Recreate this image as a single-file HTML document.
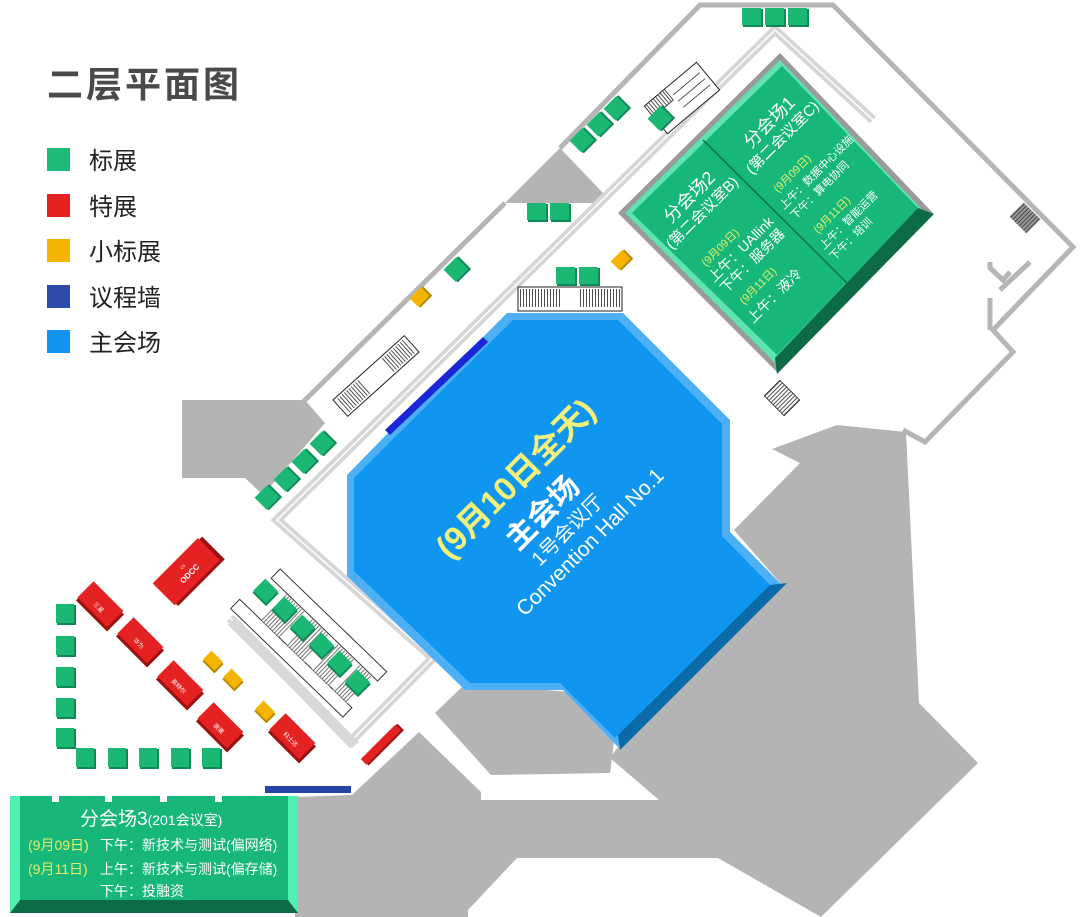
<!DOCTYPE html>
<html><head><meta charset="utf-8"><style>
html,body{margin:0;padding:0;background:#fff;}
svg{display:block;font-family:"Liberation Sans","Noto Sans CJK SC",sans-serif;}
</style></head><body>
<svg width="1080" height="917" viewBox="0 0 1080 917" xmlns="http://www.w3.org/2000/svg">
<defs>
<pattern id="hatch" width="3" height="10" patternUnits="userSpaceOnUse"><rect width="3" height="10" fill="#fff"/><line x1="1.5" y1="0" x2="1.5" y2="10" stroke="#222" stroke-width="0.8"/></pattern>
<pattern id="hatchd" width="3" height="10" patternUnits="userSpaceOnUse"><rect width="3" height="10" fill="#999"/><line x1="1.5" y1="0" x2="1.5" y2="10" stroke="#333" stroke-width="0.8"/></pattern>
</defs>

<g fill="#b4b4b4">
<polygon points="182,400 305,400 325,423 263,495 245,478 182,478"/>
<polygon points="560,148 603,193 593,203 505,203"/>
<polygon points="772,449 837,425 906,432 919,703 978,763 821,917 718,858 517,858 468,910 468,917 295,917 295,797 352,795 419,732 481,792 481,800 659,800 610,758 618,747 782,585 734,530 800,463"/>
<polygon points="435,713 466,683 569,692 615,733 610,773 491,775"/>
</g>

<g fill="none" stroke="#b5b5b5" stroke-width="5">
<polyline points="560,148 700,5 833,5 1073,247 993,330 1013,352 925,442 903,430"/>
<polyline points="505,203 303,402"/>
<polyline points="990,262 990,268 1003,280 1010,272"/>
<polyline points="990,298 990,330"/>
<polyline points="1000,290 1030,262"/>
</g>

<g fill="none">
<polyline points="873,120 775,30 277,520 433,658 350,742 230,618" stroke="#d6d6d6" stroke-width="9"/>
<polyline points="873,120 775,30 277,520 433,658 350,742 230,618" stroke="#fff" stroke-width="1.5"/>
</g>

<polygon points="507,313 623,313 730,420 730,532 782,585 618,747 563,690 465,690 347,576 347,475 388,433" fill="#4db0f7"/>
<polygon points="513,320 618,320 722,424 722,536 770,585 615,738 560,683 470,683 354,571 354,478 392,440" fill="#1096f0"/>
<polygon points="787,583 620,750 618,735 770,585" fill="#0a6aa9"/>
<polygon points="385,430 483,337 488,342 390,435" fill="#1a26d8"/>

<g transform="translate(515,478) rotate(-45)" text-anchor="middle">
<text x="0" y="12" font-size="33" font-weight="bold" fill="#f2f07a">(9月10日全天)</text>
</g>
<g transform="translate(542,512) rotate(-45)" text-anchor="middle">
<text x="0" y="11" font-size="30" font-weight="bold" fill="#fff">主会场</text>
</g>
<g transform="translate(567,530) rotate(-45)" text-anchor="middle">
<text x="0" y="7" font-size="20" fill="#fff">1号会议厅</text>
</g>
<g transform="translate(590,542) rotate(-45)" text-anchor="middle">
<text x="0" y="7" font-size="21" fill="#fff">Convention Hall No.1</text>
</g>

<polygon points="780,53 933,213 777,372 618,213" fill="#9a9a9a"/>
<polygon points="780,60 925,213 777,365 625,213" fill="#5fe3b0"/>
<polygon points="782,66 918,208 777,355 632,213" fill="#16b779"/>
<polygon points="934,214 777,374 775,358 918,208" fill="#0c6b46"/>
<line x1="703" y1="140" x2="849" y2="285" stroke="#0f6f48" stroke-width="1.5"/>
<g fill="#fff">
<text font-size="18" transform="translate(671,224) rotate(-45)">分会场2</text>
<text font-size="15" transform="translate(672,250) rotate(-45)">(第二会议室B)</text>
<text font-size="11" fill="#e6ef6a" transform="translate(706,267) rotate(-45)">(9月09日)</text>
<text font-size="14" transform="translate(714,283) rotate(-45)">上午：UAllink</text>
<text font-size="14" transform="translate(726,294) rotate(-45)">下午：服务器</text>
<text font-size="11" fill="#e6ef6a" transform="translate(744,305) rotate(-45)">(9月11日)</text>
<text font-size="14" transform="translate(753,324) rotate(-45)">上午：液冷</text>
<text font-size="18" transform="translate(751,149) rotate(-45)">分会场1</text>
<text font-size="15" transform="translate(752,175) rotate(-45)">(第二会议室C)</text>
<text font-size="11" fill="#e6ef6a" transform="translate(778,193) rotate(-45)">(9月09日)</text>
<text font-size="11" transform="translate(784,210) rotate(-45)">上午：数据中心设施</text>
<text font-size="11" transform="translate(795,220) rotate(-45)">下午：算电协同</text>
<text font-size="11" fill="#e6ef6a" transform="translate(818,234) rotate(-45)">(9月11日)</text>
<text font-size="11" transform="translate(824,250) rotate(-45)">上午：智能运营</text>
<text font-size="11" transform="translate(834,261) rotate(-45)">下午：培训</text>
</g>

<g transform="translate(682,98) rotate(-40)">
<rect x="-34" y="-18" width="68" height="36" fill="#fff" stroke="#222" stroke-width="1"/>
<rect x="-34" y="-18" width="26" height="14" fill="url(#hatch)" stroke="#222" stroke-width="0.8"/>
<line x1="-5" y1="-8" x2="30" y2="-8" stroke="#333" stroke-width="0.8"/><line x1="-5" y1="0" x2="30" y2="0" stroke="#333" stroke-width="0.8"/><line x1="-5" y1="8" x2="30" y2="8" stroke="#333" stroke-width="0.8"/>
</g>
<g transform="translate(376,376) rotate(-42)">
<rect x="-48" y="-11" width="96" height="22" fill="#fff" stroke="#222" stroke-width="1"/>
<rect x="-46" y="-9" width="32" height="18" fill="url(#hatch)"/>
<rect x="14" y="-9" width="32" height="18" fill="url(#hatch)"/>
</g>
<g>
<rect x="518" y="287" width="104" height="24" fill="#fff" stroke="#222" stroke-width="1"/>
<rect x="520" y="289" width="40" height="18" fill="url(#hatch)"/>
<rect x="580" y="289" width="40" height="18" fill="url(#hatch)"/>
</g>
<g transform="translate(782,398) rotate(45)">
<rect x="-14" y="-11" width="28" height="22" fill="url(#hatch)" stroke="#222" stroke-width="0.8"/>
</g>
<g transform="translate(1025,218) rotate(45)">
<rect x="-12" y="-10" width="24" height="20" fill="url(#hatchd)"/>
</g>
<polygon points="228,625 352,748 359,742 236,617" fill="#d8d8d8"/>
<g transform="translate(300,652) rotate(44)">
<rect x="-72" y="-46" width="148" height="13" fill="#fff" stroke="#333" stroke-width="1"/>
<rect x="-80" y="4" width="156" height="13" fill="#fff" stroke="#333" stroke-width="1"/>
<rect x="-50" y="-32" width="25" height="36" fill="url(#hatch)" opacity="0.8"/>
<rect x="-15" y="-32" width="25" height="36" fill="url(#hatch)" opacity="0.8"/>
<rect x="20" y="-32" width="25" height="36" fill="url(#hatch)" opacity="0.8"/>
<rect x="50" y="-32" width="20" height="36" fill="url(#hatch)" opacity="0.8"/>
</g>

<g>
<g><rect x="743" y="9" width="20" height="18" fill="#0f8a55"/><rect x="742" y="8" width="19" height="17" fill="#1bb874"/></g>
<g><rect x="766" y="9" width="20" height="18" fill="#0f8a55"/><rect x="765" y="8" width="19" height="17" fill="#1bb874"/></g>
<g><rect x="789" y="9" width="20" height="18" fill="#0f8a55"/><rect x="788" y="8" width="19" height="17" fill="#1bb874"/></g>
<g><rect x="528" y="204" width="20" height="18" fill="#0f8a55"/><rect x="527" y="203" width="19" height="17" fill="#1bb874"/></g>
<g><rect x="551" y="204" width="20" height="18" fill="#0f8a55"/><rect x="550" y="203" width="19" height="17" fill="#1bb874"/></g>
<g><rect x="557" y="268" width="20" height="18" fill="#0f8a55"/><rect x="556" y="267" width="19" height="17" fill="#1bb874"/></g>
<g><rect x="580" y="268" width="20" height="18" fill="#0f8a55"/><rect x="579" y="267" width="19" height="17" fill="#1bb874"/></g>
<g><rect x="57" y="605" width="19" height="20" fill="#0f8a55"/><rect x="56" y="604" width="18" height="19" fill="#1bb874"/></g>
<g><rect x="57" y="637" width="19" height="20" fill="#0f8a55"/><rect x="56" y="636" width="18" height="19" fill="#1bb874"/></g>
<g><rect x="57" y="668" width="19" height="20" fill="#0f8a55"/><rect x="56" y="667" width="18" height="19" fill="#1bb874"/></g>
<g><rect x="57" y="699" width="19" height="20" fill="#0f8a55"/><rect x="56" y="698" width="18" height="19" fill="#1bb874"/></g>
<g><rect x="57" y="729" width="19" height="20" fill="#0f8a55"/><rect x="56" y="728" width="18" height="19" fill="#1bb874"/></g>
<g><rect x="77" y="749" width="19" height="20" fill="#0f8a55"/><rect x="76" y="748" width="18" height="19" fill="#1bb874"/></g>
<g><rect x="109" y="749" width="19" height="20" fill="#0f8a55"/><rect x="108" y="748" width="18" height="19" fill="#1bb874"/></g>
<g><rect x="140" y="749" width="19" height="20" fill="#0f8a55"/><rect x="139" y="748" width="18" height="19" fill="#1bb874"/></g>
<g><rect x="172" y="749" width="19" height="20" fill="#0f8a55"/><rect x="171" y="748" width="18" height="19" fill="#1bb874"/></g>
<g><rect x="203" y="749" width="19" height="20" fill="#0f8a55"/><rect x="202" y="748" width="18" height="19" fill="#1bb874"/></g>
</g>
<g>
<g transform="translate(583,140) rotate(-45)"><rect x="-9" y="-8" width="19" height="18" fill="#0f8a55"/><rect x="-10" y="-9" width="18" height="17" fill="#1bb874"/></g>
<g transform="translate(600,124) rotate(-45)"><rect x="-9" y="-8" width="19" height="18" fill="#0f8a55"/><rect x="-10" y="-9" width="18" height="17" fill="#1bb874"/></g>
<g transform="translate(617,108) rotate(-45)"><rect x="-9" y="-8" width="19" height="18" fill="#0f8a55"/><rect x="-10" y="-9" width="18" height="17" fill="#1bb874"/></g>
<g transform="translate(661,118) rotate(-45)"><rect x="-9" y="-8" width="19" height="18" fill="#0f8a55"/><rect x="-10" y="-9" width="18" height="17" fill="#1bb874"/></g>
<g transform="translate(457,269) rotate(-45)"><rect x="-9" y="-8" width="19" height="18" fill="#0f8a55"/><rect x="-10" y="-9" width="18" height="17" fill="#1bb874"/></g>
<g transform="translate(268,497) rotate(-45)"><rect x="-9" y="-8" width="19" height="18" fill="#0f8a55"/><rect x="-10" y="-9" width="18" height="17" fill="#1bb874"/></g>
<g transform="translate(287,479) rotate(-45)"><rect x="-9" y="-8" width="19" height="18" fill="#0f8a55"/><rect x="-10" y="-9" width="18" height="17" fill="#1bb874"/></g>
<g transform="translate(305,461) rotate(-45)"><rect x="-9" y="-8" width="19" height="18" fill="#0f8a55"/><rect x="-10" y="-9" width="18" height="17" fill="#1bb874"/></g>
<g transform="translate(323,443) rotate(-45)"><rect x="-9" y="-8" width="19" height="18" fill="#0f8a55"/><rect x="-10" y="-9" width="18" height="17" fill="#1bb874"/></g>
<g transform="translate(266,592) rotate(45)"><rect x="-9" y="-8" width="19" height="18" fill="#0f8a55"/><rect x="-10" y="-9" width="18" height="17" fill="#1bb874"/></g>
<g transform="translate(285,610) rotate(45)"><rect x="-9" y="-8" width="19" height="18" fill="#0f8a55"/><rect x="-10" y="-9" width="18" height="17" fill="#1bb874"/></g>
<g transform="translate(303,628) rotate(45)"><rect x="-9" y="-8" width="19" height="18" fill="#0f8a55"/><rect x="-10" y="-9" width="18" height="17" fill="#1bb874"/></g>
<g transform="translate(322,646) rotate(45)"><rect x="-9" y="-8" width="19" height="18" fill="#0f8a55"/><rect x="-10" y="-9" width="18" height="17" fill="#1bb874"/></g>
<g transform="translate(340,664) rotate(45)"><rect x="-9" y="-8" width="19" height="18" fill="#0f8a55"/><rect x="-10" y="-9" width="18" height="17" fill="#1bb874"/></g>
<g transform="translate(358,683) rotate(45)"><rect x="-9" y="-8" width="19" height="18" fill="#0f8a55"/><rect x="-10" y="-9" width="18" height="17" fill="#1bb874"/></g>
</g>
<g>
<g transform="translate(421,297) rotate(-45)"><rect x="-8" y="-6" width="17" height="13" fill="#b88a00"/><rect x="-9" y="-7" width="16" height="12" fill="#f5b400"/></g>
<g transform="translate(622,260) rotate(-45)"><rect x="-8" y="-6" width="17" height="13" fill="#b88a00"/><rect x="-9" y="-7" width="16" height="12" fill="#f5b400"/></g>
<g transform="translate(213,662) rotate(45)"><rect x="-8" y="-6" width="17" height="13" fill="#b88a00"/><rect x="-9" y="-7" width="16" height="12" fill="#f5b400"/></g>
<g transform="translate(233,680) rotate(45)"><rect x="-8" y="-6" width="17" height="13" fill="#b88a00"/><rect x="-9" y="-7" width="16" height="12" fill="#f5b400"/></g>
<g transform="translate(265,712) rotate(45)"><rect x="-8" y="-6" width="17" height="13" fill="#b88a00"/><rect x="-9" y="-7" width="16" height="12" fill="#f5b400"/></g>
</g>
<g fill="#fff" text-anchor="middle">
<g transform="translate(188,572) rotate(-45)"><rect x="-31" y="-15" width="66" height="32" fill="#9b1010"/><rect x="-33" y="-17" width="64" height="31" fill="#e52222"/><text y="5" font-size="8" font-weight="bold">ODCC</text><text y="-6" font-size="4">C5</text></g>
<g transform="translate(100,606) rotate(45)"><rect x="-21" y="-11" width="44" height="24" fill="#9b1010"/><rect x="-22" y="-13" width="42" height="23" fill="#e52222"/><text y="4" font-size="6">三星</text></g>
<g transform="translate(140,642) rotate(45)"><rect x="-21" y="-11" width="44" height="24" fill="#9b1010"/><rect x="-22" y="-13" width="42" height="23" fill="#e52222"/><text y="4" font-size="6">华为</text></g>
<g transform="translate(180,685) rotate(45)"><rect x="-21" y="-11" width="44" height="24" fill="#9b1010"/><rect x="-22" y="-13" width="42" height="23" fill="#e52222"/><text y="4" font-size="6">英特尔</text></g>
<g transform="translate(220,727) rotate(45)"><rect x="-21" y="-11" width="44" height="24" fill="#9b1010"/><rect x="-22" y="-13" width="42" height="23" fill="#e52222"/><text y="4" font-size="6">浪潮</text></g>
<g transform="translate(292,738) rotate(45)"><rect x="-21" y="-11" width="44" height="24" fill="#9b1010"/><rect x="-22" y="-13" width="42" height="23" fill="#e52222"/><text y="4" font-size="6">科士达</text></g>
<g transform="translate(382,745) rotate(-45)"><rect x="-24" y="-4" width="50" height="9" fill="#9b1010"/><rect x="-25" y="-5" width="49" height="8" fill="#e52222"/></g>
</g>
<rect x="265" y="786" width="86" height="7" fill="#2345a8"/>

<rect x="10" y="796" width="288" height="117" fill="#4ff0b0"/>
<rect x="20" y="796" width="268" height="104" fill="#16b779"/>
<polygon points="10,913 298,913 288,900 20,900" fill="#0c6b46"/>
<rect x="52" y="796" width="7" height="6" fill="#fff"/>
<rect x="105" y="796" width="7" height="6" fill="#fff"/>
<rect x="160" y="796" width="7" height="6" fill="#fff"/>
<rect x="215" y="796" width="7" height="6" fill="#fff"/>
<text x="80" y="825" font-size="19" fill="#fff">分会场3<tspan font-size="14">(201会议室)</tspan></text>
<text x="28" y="850" font-size="14" fill="#e6ef6a">(9月09日)</text>
<text x="100" y="850" font-size="14" fill="#fff">下午：新技术与测试(偏网络)</text>
<text x="28" y="874" font-size="14" fill="#e6ef6a">(9月11日)</text>
<text x="100" y="874" font-size="14" fill="#fff">上午：新技术与测试(偏存储)</text>
<text x="100" y="896" font-size="14" fill="#fff">下午：投融资</text>

<text x="47" y="97" font-size="36" font-weight="bold" fill="#4a4a4a" letter-spacing="3">二层平面图</text>
<rect x="47" y="148" width="23" height="23" fill="#1dbb78"/>
<rect x="47" y="194" width="23" height="23" fill="#e52222"/>
<rect x="47" y="239" width="23" height="23" fill="#f5b400"/>
<rect x="47" y="285" width="23" height="23" fill="#2e4aa8"/>
<rect x="47" y="330" width="23" height="23" fill="#1195f0"/>
<g font-size="24" fill="#222">
<text x="89" y="169">标展</text>
<text x="89" y="215">特展</text>
<text x="89" y="260">小标展</text>
<text x="89" y="306">议程墙</text>
<text x="89" y="351">主会场</text>
</g>
</svg>
</body></html>
